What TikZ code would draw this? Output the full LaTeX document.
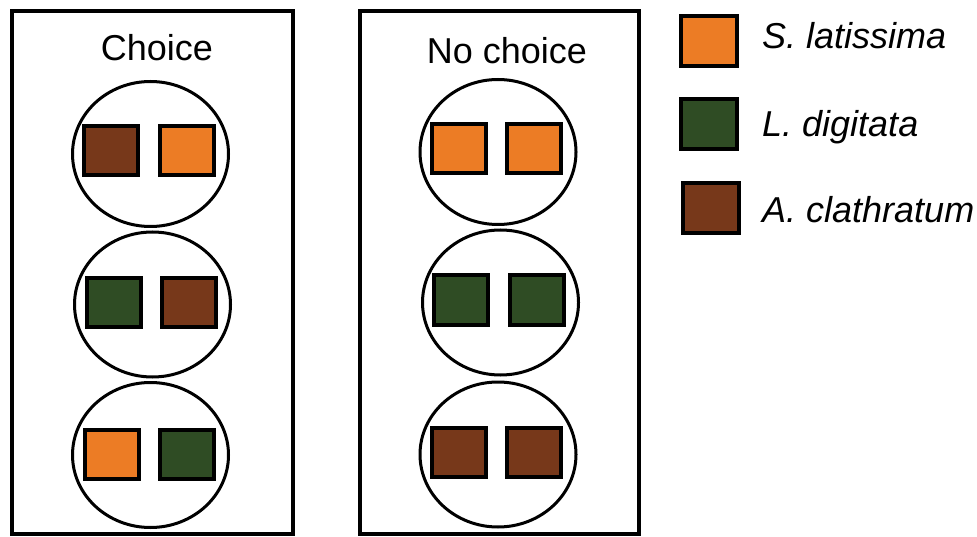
\documentclass[tikz,border=0pt]{standalone}
\usepackage{fontspec}
\setmainfont{Liberation Sans}
\usetikzlibrary{shapes.geometric,positioning}
\definecolor{kelpOrange}{RGB}{236,124,37}
\definecolor{kelpGreen}{RGB}{47,76,36}
\definecolor{kelpBrown}{RGB}{119,56,26}

\begin{document}
\begin{tikzpicture}[x=1pt, y=-1pt,
  panel/.style={rectangle, draw, line width=4pt, inner sep=0pt,
                minimum width=#1, minimum height=522pt},
  arena/.style={ellipse, draw, line width=3pt, inner sep=0pt,
                minimum width=156pt, minimum height=145pt},
  alga/.style={rectangle, draw, line width=4pt, fill=#1, inner sep=0pt,
               minimum width=54pt, minimum height=49pt},
  key/.style={rectangle, draw, line width=4pt, fill=#1, inner sep=0pt,
              minimum width=56pt, minimum height=50pt},
  title/.style={font=\fontsize{36}{40}\selectfont, anchor=base, inner sep=0pt},
  spname/.style={font=\fontsize{36}{40}\selectfont\itshape,
                 anchor=base west, inner sep=0pt}
]
  \useasboundingbox (0,0) rectangle (977,537);

  % the two treatments
  \node[panel=281pt] (choice)   at (152.5,272.5) {};
  \node[panel=279pt] (nochoice) at (499.5,272.5) {};
  \node[title] (choiceT)   at (157,61) {Choice};
  \node[title] (nochoiceT) at (507,64) {No choice};

  % arenas with their two pieces
  \foreach \n/\ex/\ey/\ax/\bx/\sy/\ca/\cb in {
      L1/150.5/154/111/186.5/151/kelpBrown/kelpOrange,
      L2/152.5/304.5/113.5/188.5/302.5/kelpGreen/kelpBrown,
      L3/150.5/455/111.5/187/454/kelpOrange/kelpGreen,
      R1/498/152/459/534/149/kelpOrange/kelpOrange,
      R2/500.5/302.5/461/536.5/300/kelpGreen/kelpGreen,
      R3/498/454.5/459/534/452/kelpBrown/kelpBrown}
  {
    \node[arena] (\n) at (\ex,\ey) {};
    \node[alga=\ca] (\n a) at (\ax,\sy) {};
    \node[alga=\cb] (\n b) at (\bx,\sy) {};
  }

  % legend
  \node[key=kelpOrange] (keyS) at (709,41) {};
  \node[key=kelpGreen]  (keyL) at (709,124) {};
  \node[key=kelpBrown]  (keyA) at (711,208.5) {};
  \node[spname] (nameS) at (762,49)  {S. latissima};
  \node[spname] (nameL) at (762,137) {L. digitata};
  \node[spname] (nameA) at (762,223) {A. clathratum};
\end{tikzpicture}
\end{document}
